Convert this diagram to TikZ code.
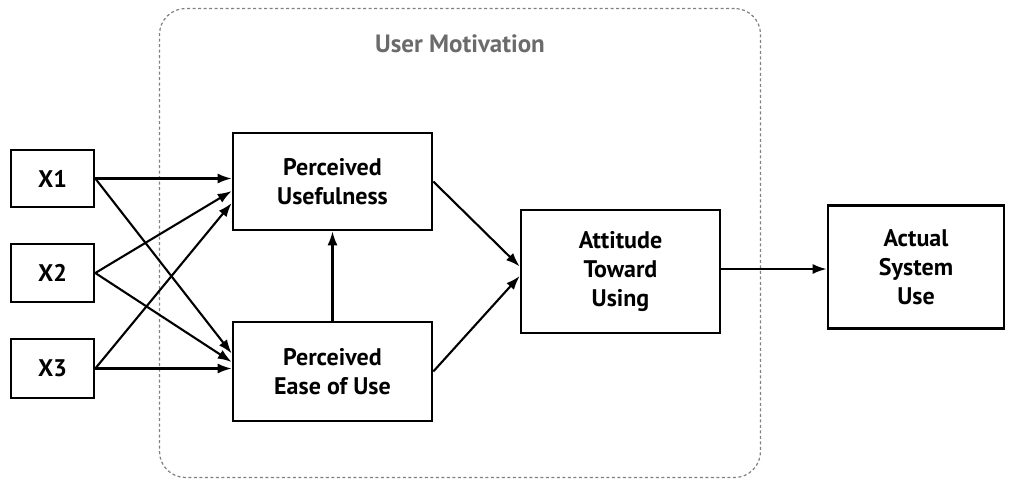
\documentclass[tikz,border=0pt]{standalone}
\usepackage{fontspec}
\setmainfont{PT Sans}
\usetikzlibrary{arrows.meta,calc}
\begin{document}
\begin{tikzpicture}[x=1pt,y=-1pt,
  box/.style={draw=black,line width=2.6pt,align=center,inner sep=0pt,
    font=\bfseries\fontsize{24}{29}\selectfont},
  arr/.style={-{Latex[length=14pt,width=10pt]},line width=2.1pt},
  region/.style={draw=black!50,line width=1.2pt,dash pattern=on 3pt off 2.5pt,
    rounded corners=26pt,inner sep=0pt}]
\useasboundingbox (0,0) rectangle (1012,482);
\node[region,minimum width=601pt,minimum height=469pt] (um) at (460,243) {};
\node[text=black!58,font=\bfseries\fontsize{25}{30}\selectfont] (title) at (460,44) {User Motivation};
\node[box,minimum width=83pt,minimum height=57pt] (x1) at (52.5,178.5) {X1};
\node[box,minimum width=83pt,minimum height=58pt] (x2) at (52.5,273) {X2};
\node[box,minimum width=83pt,minimum height=59pt] (x3) at (52.5,368.5) {X3};
\node[box,minimum width=199pt,minimum height=97pt] (pu) at (332.5,181.5) {Perceived\\Usefulness};
\node[box,minimum width=199pt,minimum height=99pt] (pe) at (332.5,371.5) {Perceived\\Ease of Use};
\node[box,minimum width=199pt,minimum height=123pt] (atu) at (620.5,271.5) {Attitude\\Toward\\Using};
\node[box,minimum width=176pt,minimum height=123pt] (asu) at (916,267) {Actual\\System\\Use};
\coordinate (pe1) at ($(pe.west)+(0,-18)$);
\coordinate (pe2) at ($(pe.west)+(0,-9.5)$);
\coordinate (pu2) at ($(pu.west)+(0,9.5)$);
\coordinate (pu3) at ($(pu.west)+(0,21.5)$);
\coordinate (at1) at ($(atu.west)+(0,-5)$);
\coordinate (at2) at ($(atu.west)+(0,4.5)$);
\draw[arr] (x1.east) -- (x1.east -| pu.west);
\draw[arr] (x1.east) -- (pe1);
\draw[arr] (x2.east) -- (pu2);
\draw[arr] (x2.east) -- (pe2);
\draw[arr] (x3.east) -- (pu3);
\draw[arr] (x3.east) -- (x3.east -| pe.west);
\draw[arr] (pe.north) -- (pu.south);
\draw[arr] (pu.east) -- (at1);
\draw[arr] (pe.east) -- (at2);
\draw[arr] (atu.east -| atu.east) ++(0,-2.5) coordinate (ao) -- (ao -| asu.west);
\end{tikzpicture}
\end{document}
